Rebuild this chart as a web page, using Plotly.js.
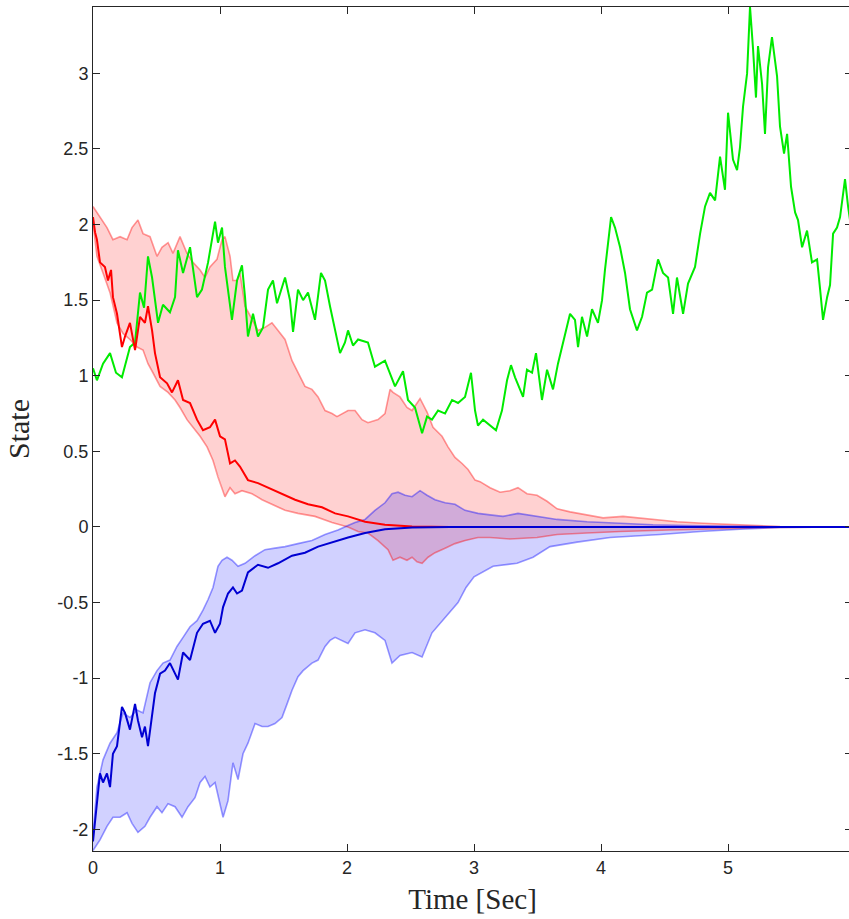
<!DOCTYPE html>
<html>
<head>
<meta charset="utf-8">
<script src="https://cdn.plot.ly/plotly-3.0.1.min.js"></script>
<style>
html,body{margin:0;padding:0;overflow:hidden;background:#fff;}
#chart{width:852px;height:919px;}
</style>
</head>
<body>
<div id="chart"></div>
<script>
// ---- Green state trajectory ----
const greenT = [0,0.031,0.079,0.134,0.181,0.228,0.291,0.331,0.370,0.402,0.433,0.465,0.512,0.551,0.606,0.646,0.669,0.709,0.764,0.819,0.858,0.906,0.961,0.984,1.016,1.039,1.094,1.134,1.173,1.197,1.220,1.260,1.299,1.339,1.378,1.417,1.449,1.512,1.551,1.575,1.614,1.654,1.693,1.748,1.795,1.827,1.866,1.906,1.945,1.984,2.008,2.047,2.087,2.165,2.220,2.299,2.378,2.441,2.480,2.535,2.591,2.630,2.669,2.717,2.772,2.827,2.874,2.929,2.976,3.008,3.031,3.071,3.126,3.173,3.220,3.260,3.291,3.323,3.362,3.386,3.417,3.457,3.488,3.535,3.575,3.622,3.661,3.701,3.756,3.795,3.819,3.850,3.890,3.929,3.976,4.008,4.031,4.079,4.110,4.150,4.189,4.228,4.283,4.323,4.362,4.402,4.449,4.488,4.528,4.567,4.598,4.646,4.685,4.740,4.780,4.819,4.858,4.898,4.937,4.976,5.000,5.039,5.071,5.094,5.118,5.150,5.173,5.197,5.220,5.236,5.268,5.291,5.315,5.346,5.386,5.409,5.441,5.465,5.496,5.528,5.551,5.583,5.622,5.661,5.701,5.724,5.748,5.780,5.803,5.827,5.858,5.882,5.921,5.945,5.969];
const greenY = [1.05,0.97,1.08,1.15,1.02,0.99,1.19,1.22,1.55,1.45,1.79,1.65,1.35,1.47,1.42,1.52,1.83,1.68,1.85,1.52,1.57,1.75,2.02,1.88,1.98,1.72,1.37,1.63,1.73,1.52,1.26,1.41,1.26,1.32,1.57,1.63,1.48,1.65,1.50,1.29,1.57,1.50,1.55,1.37,1.68,1.63,1.46,1.30,1.15,1.22,1.30,1.20,1.24,1.22,1.06,1.10,0.93,1.03,0.84,0.79,0.62,0.73,0.71,0.77,0.75,0.84,0.82,0.86,1.02,0.77,0.67,0.71,0.67,0.64,0.77,0.97,1.07,0.99,0.91,0.86,1.04,1.02,1.15,0.84,1.04,0.91,1.08,1.22,1.41,1.37,1.19,1.39,1.26,1.44,1.35,1.50,1.70,2.05,1.98,1.85,1.68,1.44,1.30,1.39,1.55,1.57,1.77,1.68,1.65,1.41,1.65,1.41,1.61,1.72,1.94,2.12,2.21,2.16,2.45,2.23,2.74,2.43,2.36,2.51,2.78,3.00,3.44,3.16,2.84,3.18,2.93,2.60,3.04,3.24,2.98,2.65,2.47,2.60,2.25,2.08,2.03,1.85,1.96,1.75,1.77,1.58,1.37,1.52,1.60,1.94,1.98,2.05,2.30,2.12,1.98];

// ---- Red state: sample path ----
const redT = [0,0.016,0.031,0.055,0.094,0.118,0.142,0.157,0.189,0.228,0.252,0.291,0.331,0.370,0.409,0.433,0.465,0.488,0.528,0.583,0.622,0.669,0.709,0.764,0.819,0.866,0.921,0.961,1.000,1.039,1.079,1.118,1.157,1.220,1.299,1.378,1.488,1.591,1.693,1.803,1.906,2.008,2.142,2.299,2.512,2.811,5.976];
const redY = [2.05,1.95,1.90,1.75,1.72,1.63,1.70,1.52,1.41,1.19,1.26,1.35,1.17,1.39,1.35,1.46,1.30,1.15,0.99,0.95,0.89,0.97,0.84,0.82,0.71,0.64,0.66,0.71,0.60,0.58,0.42,0.44,0.40,0.31,0.29,0.26,0.22,0.18,0.15,0.13,0.09,0.07,0.035,0.015,0.003,0,0];

// ---- Red band: upper edge ----
const redUpT = [0,0.055,0.110,0.157,0.213,0.268,0.307,0.354,0.394,0.449,0.504,0.543,0.591,0.630,0.685,0.740,0.787,0.843,0.882,0.921,0.976,1.016,1.039,1.079,1.102,1.134,1.157,1.197,1.252,1.299,1.354,1.409,1.457,1.512,1.567,1.614,1.669,1.724,1.772,1.827,1.882,1.921,1.961,2.008,2.063,2.118,2.165,2.244,2.299,2.339,2.362,2.417,2.472,2.512,2.575,2.630,2.677,2.748,2.795,2.850,2.906,2.953,3.008,3.047,3.126,3.205,3.283,3.346,3.417,3.496,3.575,3.654,3.756,3.890,4.016,4.173,4.283,4.441,4.598,4.803,4.937,5.173,5.409,5.976];
const redUpY = [2.12,2.05,1.98,1.90,1.92,1.90,1.98,2.03,1.94,1.92,1.79,1.85,1.88,1.81,1.92,1.81,1.75,1.70,1.65,1.72,1.77,1.90,1.92,1.79,1.63,1.63,1.68,1.46,1.37,1.30,1.32,1.35,1.30,1.24,1.10,1.02,0.93,0.91,0.86,0.77,0.75,0.73,0.75,0.77,0.77,0.71,0.69,0.71,0.75,0.91,0.89,0.86,0.79,0.77,0.85,0.76,0.66,0.60,0.53,0.46,0.42,0.38,0.31,0.30,0.26,0.23,0.24,0.26,0.22,0.21,0.17,0.12,0.10,0.08,0.06,0.07,0.06,0.05,0.035,0.025,0.02,0.01,0.003,0];

// ---- Red band: lower edge ----
const redLoT = [0,0.031,0.079,0.134,0.189,0.236,0.291,0.346,0.394,0.433,0.472,0.528,0.591,0.646,0.685,0.740,0.787,0.843,0.898,0.945,0.984,1.016,1.039,1.079,1.118,1.173,1.252,1.331,1.409,1.512,1.614,1.748,1.882,2.008,2.087,2.165,2.244,2.323,2.362,2.417,2.472,2.512,2.551,2.591,2.638,2.693,2.772,2.850,2.929,3.031,3.126,3.283,3.496,3.654,3.890,4.150,4.543,4.937,5.409,5.976];
const redLoY = [2.01,1.79,1.68,1.55,1.35,1.28,1.24,1.19,1.17,1.08,1.02,0.93,0.89,0.84,0.79,0.71,0.66,0.60,0.53,0.44,0.33,0.26,0.20,0.26,0.22,0.24,0.22,0.18,0.15,0.11,0.09,0.07,0.03,0.0,-0.03,-0.04,-0.09,-0.15,-0.22,-0.20,-0.22,-0.20,-0.23,-0.24,-0.20,-0.17,-0.14,-0.11,-0.09,-0.07,-0.07,-0.08,-0.07,-0.05,-0.04,-0.03,-0.02,-0.01,-0.003,0];

// ---- Blue state: sample path ----
const blueT = [0,0.016,0.031,0.055,0.079,0.110,0.134,0.157,0.189,0.228,0.252,0.291,0.331,0.354,0.386,0.409,0.433,0.465,0.488,0.528,0.567,0.606,0.646,0.669,0.709,0.764,0.819,0.866,0.921,0.961,1.000,1.024,1.063,1.102,1.134,1.173,1.220,1.299,1.378,1.457,1.567,1.669,1.772,1.882,2.008,2.142,2.299,2.512,2.811,5.976];
const blueY = [-2.08,-1.95,-1.79,-1.63,-1.69,-1.63,-1.72,-1.50,-1.45,-1.19,-1.23,-1.34,-1.17,-1.28,-1.39,-1.32,-1.45,-1.26,-1.10,-0.97,-0.95,-0.90,-0.97,-1.01,-0.83,-0.88,-0.70,-0.64,-0.62,-0.70,-0.64,-0.53,-0.44,-0.40,-0.44,-0.42,-0.30,-0.25,-0.27,-0.24,-0.19,-0.17,-0.13,-0.10,-0.07,-0.04,-0.015,-0.003,0,0];

// ---- Blue band: upper edge ----
const blueUpT = [0,0.031,0.079,0.134,0.189,0.236,0.291,0.346,0.394,0.449,0.504,0.551,0.606,0.661,0.709,0.764,0.819,0.866,0.906,0.945,0.984,1.016,1.055,1.094,1.142,1.197,1.276,1.354,1.433,1.512,1.614,1.724,1.827,1.929,2.008,2.063,2.142,2.220,2.299,2.354,2.402,2.457,2.512,2.575,2.630,2.693,2.772,2.850,2.929,3.031,3.126,3.228,3.346,3.496,3.654,3.890,4.150,4.409,4.677,5.094,5.409,5.976];
const blueUpY = [-2.03,-1.72,-1.54,-1.43,-1.36,-1.23,-1.26,-1.21,-1.23,-1.03,-0.95,-0.90,-0.88,-0.79,-0.73,-0.66,-0.62,-0.55,-0.48,-0.40,-0.26,-0.22,-0.20,-0.22,-0.26,-0.24,-0.19,-0.15,-0.14,-0.13,-0.11,-0.09,-0.05,-0.02,0.01,0.03,0.05,0.11,0.16,0.22,0.23,0.21,0.20,0.24,0.21,0.18,0.16,0.15,0.11,0.09,0.08,0.07,0.09,0.07,0.05,0.035,0.025,0.015,0.01,0.005,0.002,0];

// ---- Blue band: lower edge ----
const blueLoT = [0,0.055,0.110,0.157,0.213,0.268,0.307,0.354,0.409,0.449,0.504,0.543,0.591,0.646,0.701,0.748,0.803,0.843,0.882,0.921,0.961,1.000,1.024,1.063,1.102,1.142,1.181,1.220,1.276,1.331,1.378,1.433,1.488,1.528,1.567,1.614,1.654,1.724,1.772,1.827,1.866,1.906,1.961,2.008,2.063,2.142,2.220,2.299,2.354,2.417,2.512,2.591,2.669,2.772,2.874,2.937,3.000,3.150,3.339,3.465,3.598,3.811,4.071,4.465,4.780,5.094,5.409,5.976];
const blueLoY = [-2.14,-2.07,-1.98,-1.92,-1.92,-1.89,-1.96,-2.02,-1.98,-1.92,-1.85,-1.89,-1.83,-1.85,-1.92,-1.85,-1.79,-1.69,-1.65,-1.72,-1.69,-1.83,-1.92,-1.81,-1.56,-1.67,-1.50,-1.43,-1.30,-1.32,-1.32,-1.30,-1.26,-1.17,-1.08,-0.99,-0.95,-0.90,-0.88,-0.79,-0.75,-0.73,-0.75,-0.77,-0.70,-0.68,-0.70,-0.75,-0.90,-0.85,-0.83,-0.86,-0.70,-0.60,-0.50,-0.40,-0.33,-0.26,-0.24,-0.20,-0.13,-0.10,-0.07,-0.05,-0.03,-0.015,-0.003,0];

// axis settings
const xTicks = [0,1,2,3,4,5];
const xTickText = ['0','1','2','3','4','5'];
const yTicks = [-2,-1.5,-1,-0.5,0,0.5,1,1.5,2,2.5,3];
const yTickText = ['-2','-1.5','-1','-0.5','0','0.5','1','1.5','2','2.5','3'];

function band(tu, yu, tl, yl, fillcolor) {
  return {
    x: tu.concat(tl.slice().reverse()),
    y: yu.concat(yl.slice().reverse()),
    type: 'scatter', mode: 'lines', fill: 'toself',
    fillcolor: fillcolor, line: {width: 0}, hoverinfo: 'skip', showlegend: false
  };
}
function line(t, y, color, width) {
  return {x: t, y: y, type: 'scatter', mode: 'lines',
          line: {color: color, width: width}, showlegend: false};
}

const traces = [
  band(redUpT, redUpY, redLoT, redLoY, 'rgba(255,0,0,0.18)'),
  band(blueUpT, blueUpY, blueLoT, blueLoY, 'rgba(0,0,255,0.18)'),
  line(redUpT, redUpY, 'rgba(255,0,0,0.4)', 1.6),
  line(redLoT, redLoY, 'rgba(255,0,0,0.4)', 1.6),
  line(blueUpT, blueUpY, 'rgba(0,0,255,0.4)', 1.6),
  line(blueLoT, blueLoY, 'rgba(0,0,255,0.4)', 1.6),
  line(greenT, greenY, 'rgb(0,235,0)', 2),
  line(redT, redY, 'rgb(255,0,0)', 2),
  line(blueT, blueY, 'rgb(0,0,210)', 2)
];

const axisCommon = {
  showline: true, linecolor: '#262626', linewidth: 1, mirror: 'ticks',
  ticks: 'inside', ticklen: 7, tickcolor: '#262626', tickwidth: 1,
  showgrid: false, zeroline: false,
  tickfont: {family: 'Liberation Sans, Arial, sans-serif', size: 18, color: '#262626'}
};

const layout = {
  width: 852, height: 919,
  margin: {l: 93, r: 0, t: 7, b: 68},
  paper_bgcolor: '#ffffff', plot_bgcolor: '#ffffff',
  showlegend: false,
  xaxis: Object.assign({}, axisCommon, {
    range: [0, 5.976], tickvals: xTicks, ticktext: xTickText,
    title: {text: 'Time [Sec]', standoff: 12,
            font: {family: 'Liberation Serif, Times New Roman, serif', size: 29, color: '#262626'}}
  }),
  yaxis: Object.assign({}, axisCommon, {
    range: [-2.143, 3.439], tickvals: yTicks, ticktext: yTickText,
    title: {text: 'State', standoff: 18,
            font: {family: 'Liberation Serif, Times New Roman, serif', size: 30, color: '#262626'}}
  })
};

Plotly.newPlot('chart', traces, layout, {staticPlot: true, displayModeBar: false});
</script>
</body>
</html>
